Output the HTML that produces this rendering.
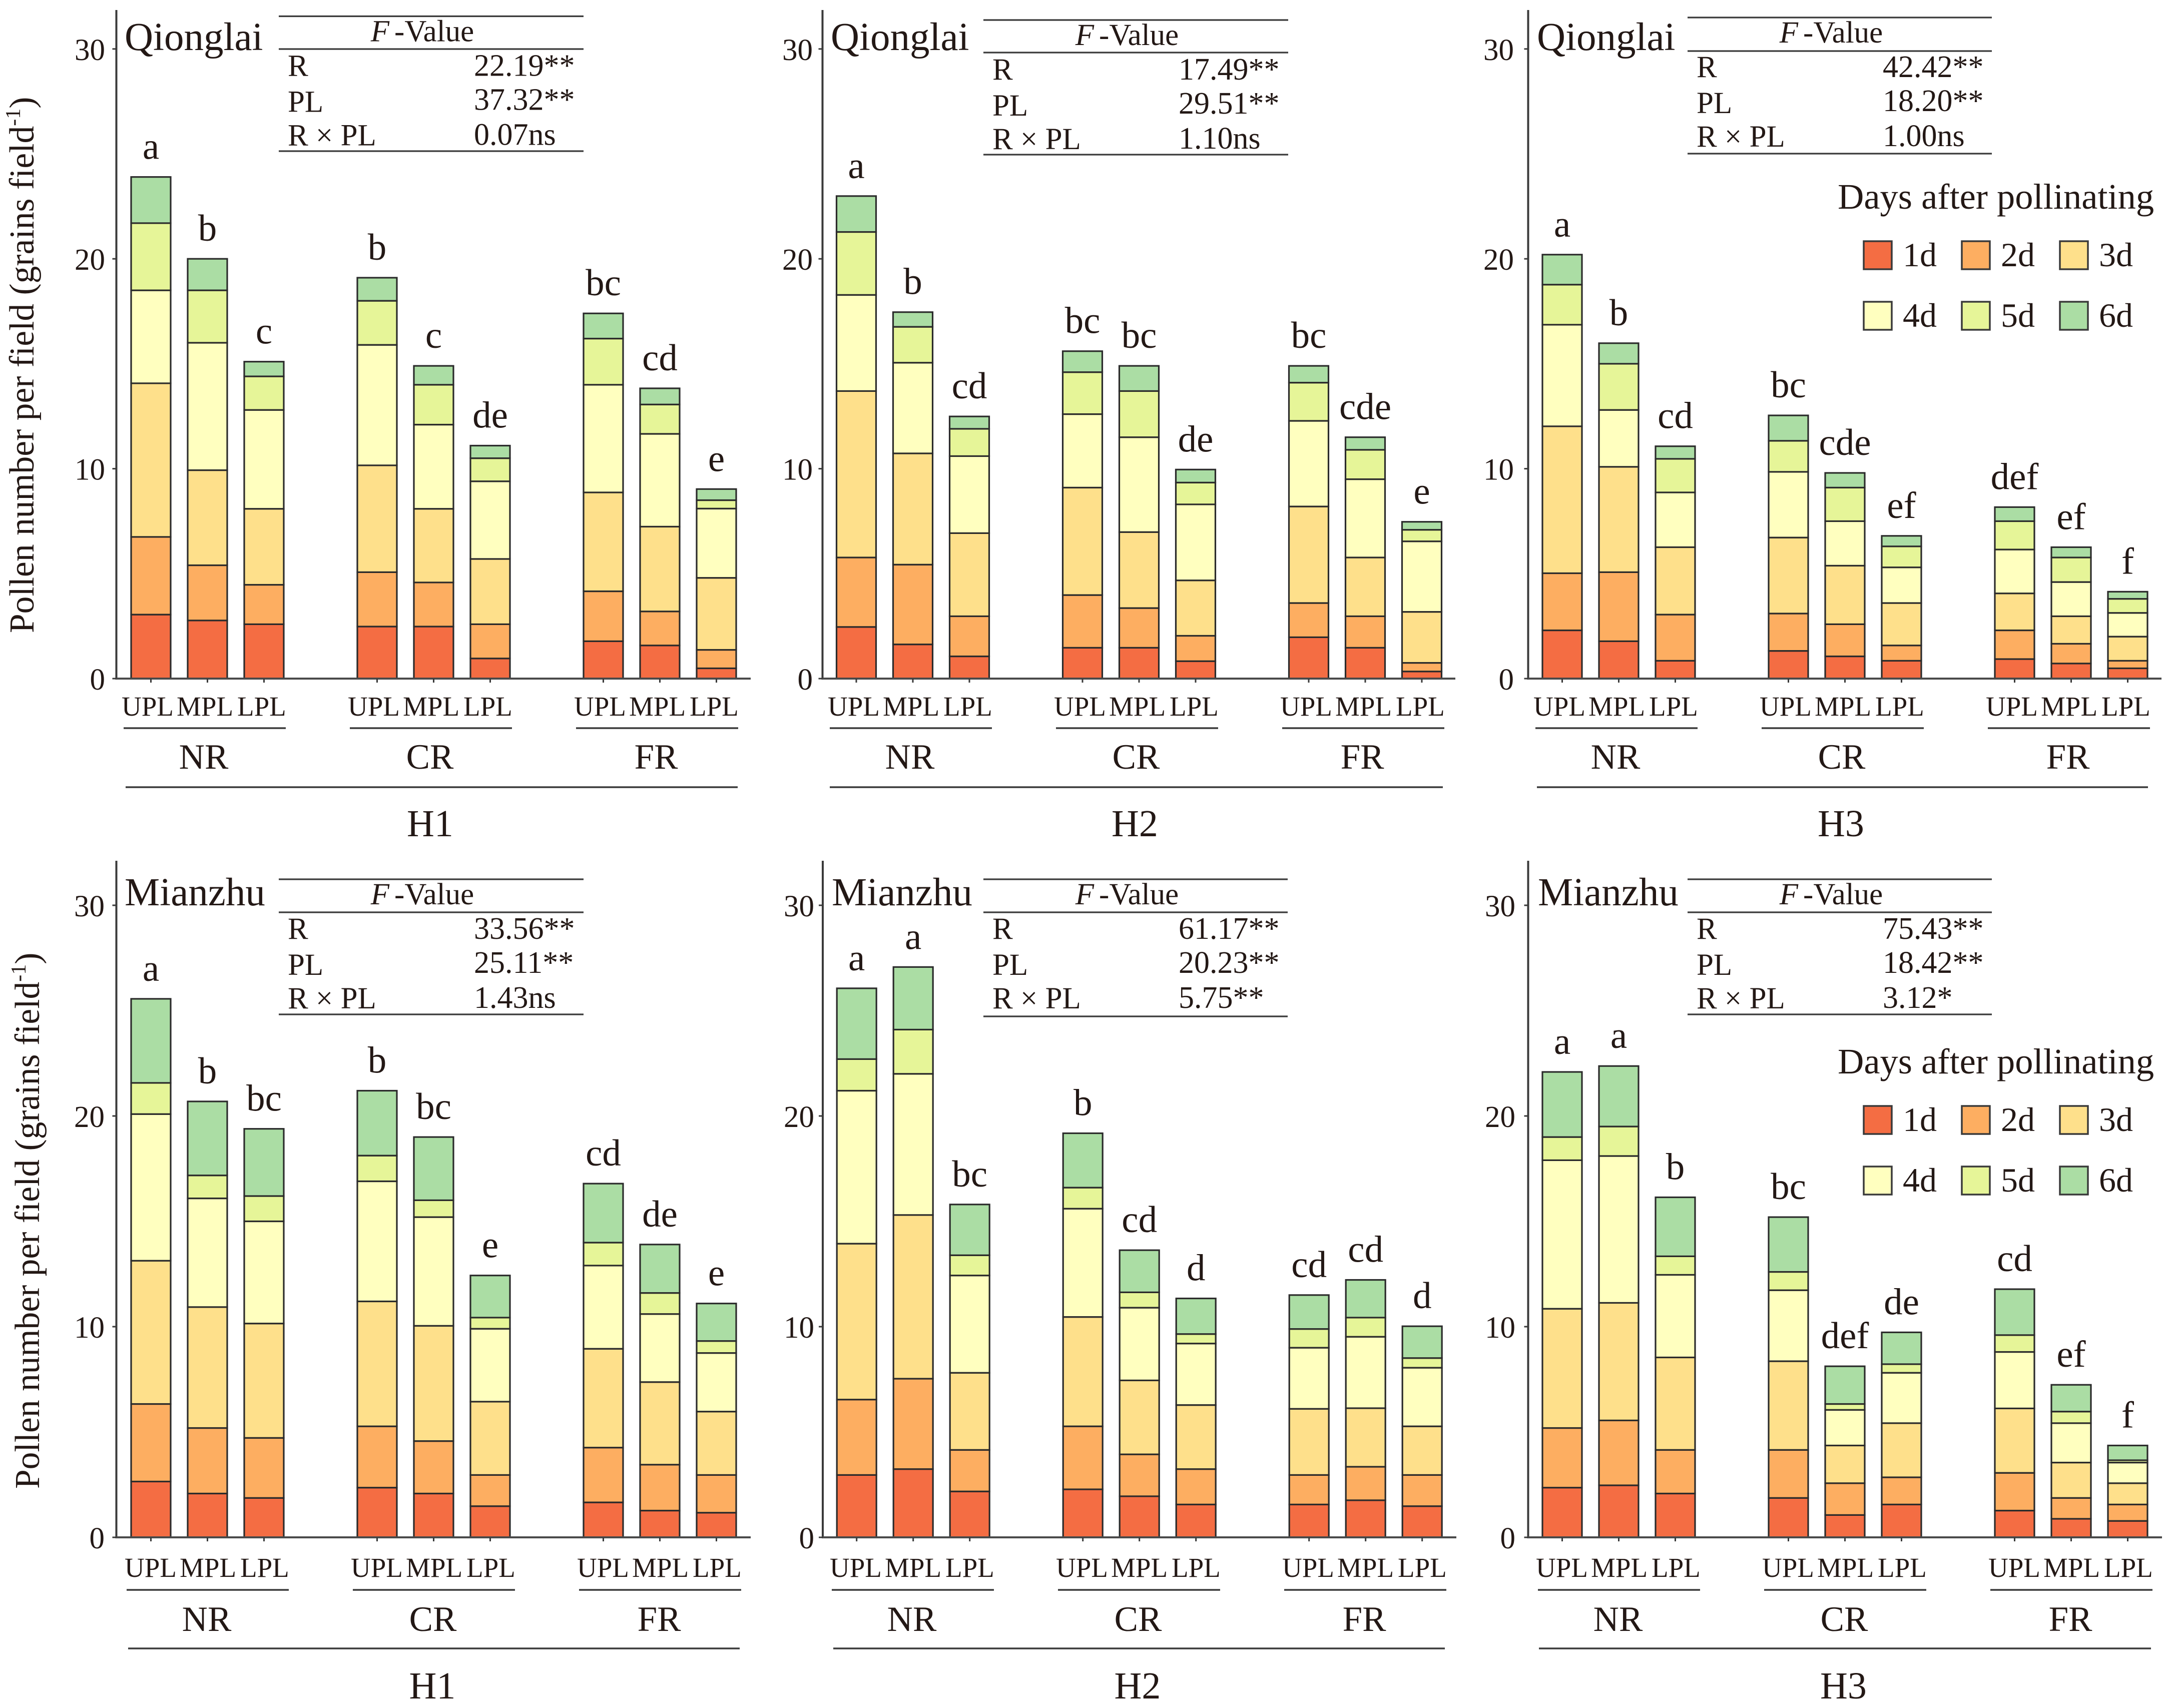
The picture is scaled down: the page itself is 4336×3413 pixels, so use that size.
<!DOCTYPE html>
<html lang="en">
<head>
<meta charset="utf-8">
<title>Pollen number per field by days after pollinating</title>
<style>
html,body{margin:0;padding:0;background:#fff;}
svg{display:block;font-family:"Liberation Serif",serif;fill:#231815;}
</style>
</head>
<body>
<svg id="figure" xmlns="http://www.w3.org/2000/svg" width="4336" height="3413" viewBox="0 0 4336 3413"></svg>
<script>
// ---- categorical data ----
const categories = ['UPL','MPL','LPL'];
const groups = ['NR','CR','FR'];
const yTicks = [0,10,20,30];
const dayLabels = ['1d','2d','3d','4d','5d','6d'];
const dayColors = ['#F46D43','#FDAE61','#FEE08B','#FFFFBF','#E6F598','#ABDDA4'];

// ---- Qionglai H1: daily pollen count per bar ----
const q1d1 = [3.05,2.77,2.59,2.48,2.48,0.96,1.78,1.58,0.49];
const q1d2 = [3.70,2.63,1.88,2.59,2.10,1.63,2.38,1.62,0.88];
const q1d3 = [7.32,4.53,3.62,5.09,3.51,3.11,4.71,4.04,3.43];
const q1d4 = [4.43,6.07,4.71,5.74,4.01,3.70,5.13,4.42,3.30];
const q1d5 = [3.20,2.50,1.60,2.10,1.90,1.10,2.20,1.40,0.40];
const q1d6 = [2.20,1.50,0.70,1.10,0.90,0.60,1.20,0.77,0.53];
const q1Letters = ['a','b','c','b','c','de','bc','cd','e'];
const q1FValues = ['22.19**','37.32**','0.07ns'];

// ---- Qionglai H2 ----
const q2d1 = [2.46,1.63,1.06,1.47,1.47,0.83,1.97,1.47,0.34];
const q2d2 = [3.31,3.80,1.91,2.51,1.89,1.21,1.63,1.50,0.41];
const q2d3 = [7.93,5.30,3.96,5.12,3.62,2.64,4.60,2.80,2.43];
const q2d4 = [4.58,4.32,3.67,3.50,4.52,3.62,4.08,3.73,3.36];
const q2d5 = [3.00,1.71,1.30,2.00,2.20,1.04,1.82,1.40,0.55];
const q2d6 = [1.71,0.70,0.59,1.00,1.20,0.62,0.80,0.60,0.38];
const q2Letters = ['a','b','cd','bc','bc','de','bc','cde','e'];
const q2FValues = ['17.49**','29.51**','1.10ns'];

// ---- Qionglai H3 ----
const q3d1 = [2.30,1.78,0.85,1.32,1.06,0.85,0.93,0.72,0.49];
const q3d2 = [2.72,3.29,2.20,1.78,1.53,0.73,1.37,0.94,0.36];
const q3d3 = [7.00,5.02,3.21,3.62,2.79,2.02,1.76,1.31,1.15];
const q3d4 = [4.84,2.71,2.61,3.13,2.12,1.70,2.09,1.63,1.13];
const q3d5 = [1.91,2.20,1.60,1.48,1.60,1.00,1.35,1.17,0.67];
const q3d6 = [1.43,0.98,0.60,1.21,0.70,0.50,0.67,0.49,0.34];
const q3Letters = ['a','b','cd','bc','cde','ef','def','ef','f'];
const q3FValues = ['42.42**','18.20**','1.00ns'];

// ---- Mianzhu H1 ----
const m1d1 = [2.65,2.08,1.87,2.36,2.08,1.48,1.66,1.27,1.17];
const m1d2 = [3.68,3.11,2.85,2.91,2.49,1.48,2.60,2.18,1.79];
const m1d3 = [6.80,5.74,5.43,5.93,5.47,3.48,4.69,3.92,3.01];
const m1d4 = [6.96,5.16,4.85,5.70,5.16,3.46,3.95,3.23,2.78];
const m1d5 = [1.48,1.09,1.20,1.22,0.80,0.53,1.09,1.00,0.57];
const m1d6 = [3.99,3.51,3.19,3.08,3.00,2.00,2.80,2.30,1.78];
const m1Letters = ['a','b','bc','b','bc','e','cd','de','e'];
const m1FValues = ['33.56**','25.11**','1.43ns'];

// ---- Mianzhu H2 ----
const m2d1 = [2.96,3.24,2.18,2.28,1.95,1.56,1.56,1.76,1.48];
const m2d2 = [3.58,4.29,1.97,2.99,1.99,1.68,1.40,1.59,1.48];
const m2d3 = [7.40,7.77,3.66,5.19,3.51,3.04,3.14,2.78,2.31];
const m2d4 = [7.26,6.70,4.62,5.14,3.45,2.92,2.90,3.39,2.78];
const m2d5 = [1.50,2.10,0.96,1.00,0.73,0.45,0.89,0.91,0.46];
const m2d6 = [3.36,2.97,2.41,2.58,2.00,1.69,1.61,1.79,1.51];
const m2Letters = ['a','a','bc','b','cd','d','cd','cd','d'];
const m2FValues = ['61.17**','20.23**','5.75**'];

// ---- Mianzhu H3 ----
const m3d1 = [2.36,2.47,2.08,1.87,1.06,1.56,1.27,0.88,0.78];
const m3d2 = [2.83,3.08,2.07,2.28,1.51,1.29,1.79,0.99,0.78];
const m3d3 = [5.66,5.58,4.39,4.21,1.79,2.57,3.06,1.68,1.01];
const m3d4 = [7.05,6.97,3.92,3.37,1.69,2.39,2.68,1.87,0.98];
const m3d5 = [1.10,1.40,0.88,0.87,0.28,0.41,0.80,0.55,0.11];
const m3d6 = [3.09,2.87,2.80,2.60,1.79,1.51,2.18,1.27,0.70];
const m3Letters = ['a','a','b','bc','def','de','cd','ef','f'];
const m3FValues = ['75.43**','18.42**','3.12*'];

const fRowLabels = ['R','PL','R × PL'];
const panelSites = ['Qionglai','Qionglai','Qionglai','Mianzhu','Mianzhu','Mianzhu'];
const panelHybrids = ['H1','H2','H3','H1','H2','H3'];
const panelSeries = [
  [q1d1,q1d2,q1d3,q1d4,q1d5,q1d6],
  [q2d1,q2d2,q2d3,q2d4,q2d5,q2d6],
  [q3d1,q3d2,q3d3,q3d4,q3d5,q3d6],
  [m1d1,m1d2,m1d3,m1d4,m1d5,m1d6],
  [m2d1,m2d2,m2d3,m2d4,m2d5,m2d6],
  [m3d1,m3d2,m3d3,m3d4,m3d5,m3d6]
];
const panelLetters = [q1Letters,q2Letters,q3Letters,m1Letters,m2Letters,m3Letters];
const panelFValues = [q1FValues,q2FValues,q3FValues,m1FValues,m2FValues,m3FValues];

// ---- layout only (pixels) ----
const rowLayouts = [
  {y0:1356,unit:41.94,top:20,catBase:1430,catLine:1455,grpBase:1536,rowLine:1573,hBase:1671,siteBase:100},
  {y0:3072,unit:42.1,top:1720,catBase:3151,catLine:3177,grpBase:3259,rowLine:3294,hBase:3394,siteBase:1809}
];
const columnLayouts = [
  {row:0,axisX:232.5,barX0:301.5,right:1500,tickRight:210,labelX:243,lineX1:251,lineX2:1474,siteX:249,tX1:557,tX2:1166,tTop:32.5,tHead:98,tBot:302},
  {row:0,axisX:1643.5,barX0:1711,right:2908,tickRight:1624,labelX:1654,lineX1:1658,lineX2:2883,siteX:1660,tX1:1965,tX2:2574,tTop:40,tHead:105,tBot:309},
  {row:0,axisX:3053.5,barX0:3121.5,right:4319,tickRight:3025,labelX:3064,lineX1:3071,lineX2:4292,siteX:3071,tX1:3372,tX2:3980,tTop:35,tHead:102,tBot:307,legendBase:418},
  {row:1,axisX:232.5,barX0:301.5,right:1500,tickRight:209,labelX:249,lineX1:256,lineX2:1478,siteX:249,tX1:557,tX2:1166,tTop:1757,tHead:1823,tBot:2027},
  {row:1,axisX:1644,barX0:1711.7,right:2910,tickRight:1627,labelX:1658,lineX1:1665,lineX2:2887,siteX:1662,tX1:1965,tX2:2573,tTop:1757,tHead:1823,tBot:2031},
  {row:1,axisX:3053.5,barX0:3121.5,right:4320,tickRight:3028,labelX:3069,lineX1:3075,lineX2:4298,siteX:3073,tX1:3372,tX2:3980,tTop:1757,tHead:1823,tBot:2027,legendBase:2146}
];
const BAR_STEP = 113, BAR_W = 79, GROUP_STEP = 452;
const TEXT_COLOR = '#231815', LINE_COLOR = '#3a3a3a';

const svg = document.getElementById('figure');
const NS = 'http://www.w3.org/2000/svg';
function make(tag, parent, attrs, text){
  const node = document.createElementNS(NS, tag);
  for (const k in attrs) node.setAttribute(k, attrs[k]);
  if (text !== undefined) node.textContent = text;
  parent.appendChild(node);
  return node;
}
function hLine(parent, x1, x2, y, w, color){
  return make('line', parent, {x1:x1, x2:x2, y1:y, y2:y, stroke:color || LINE_COLOR, 'stroke-width':w});
}

columnLayouts.forEach(function(p, pi){
  const row = rowLayouts[p.row];
  const yScale = function(v){ return row.y0 - v * row.unit; };
  const xScale = function(barIndex){
    const groupIdx = Math.floor(barIndex / 3);
    return p.barX0 + groupIdx * GROUP_STEP + (barIndex % 3) * BAR_STEP;
  };

  const panel = make('g', svg, {});
  
  

  // bars
  const series = panelSeries[pi];
  const letters = panelLetters[pi];
  for (let b = 0; b < letters.length; b++){
    let cum = 0;
    const barX = xScale(b);
    const barGroup = make('g', panel, {});
    
    
    for (let d = 0; d < series.length; d++){
      const v = series[d][b];
      const yTop = yScale(cum + v);
      const yBottom = yScale(cum);
      const seg = make('rect', barGroup, {x:barX - BAR_W/2, y:yTop, width:BAR_W, height:yBottom - yTop, fill:dayColors[d], stroke:'#2b2b2b', 'stroke-width':3.2});
      
      
      cum += v;
    }
    const letter = make('text', panel, {x:barX, y:yScale(cum) - 36, 'text-anchor':'middle', 'font-size':75, fill:TEXT_COLOR}, letters[b]);
    
    
  }

  // axes
  const yAxis = make('line', panel, {x1:p.axisX, x2:p.axisX, y1:row.top, y2:row.y0 + 2, stroke:LINE_COLOR, 'stroke-width':4});
  
  
  const xAxis = hLine(panel, p.axisX, p.right, row.y0, 4, '#4a4a4a');
  
  

  yTicks.forEach(function(t){
    const tick = make('line', panel, {x1:p.axisX - 8, x2:p.axisX, y1:yScale(t), y2:yScale(t), stroke:LINE_COLOR, 'stroke-width':3});
    
    
    const tickLabel = make('text', panel, {x:p.tickRight, y:yScale(t) + 22, 'text-anchor':'end', 'font-size':61, fill:TEXT_COLOR}, String(t));
    
    
  });

  // category labels and brackets
  const catOffsets = [0, 110, 231];
  groups.forEach(function(g, gi){
    const gx = gi * GROUP_STEP;
    categories.forEach(function(c, ci){
      const tickX = xScale(gi * 3 + ci);
      const xTick = make('line', panel, {x1:tickX, x2:tickX, y1:row.y0, y2:row.y0 + 8, stroke:LINE_COLOR, 'stroke-width':3});
      
      
      const catLabel = make('text', panel, {x:p.labelX + gx + catOffsets[ci], y:row.catBase, 'font-size':55, fill:TEXT_COLOR}, c);
      
      
    });
    const bracket = hLine(panel, p.labelX + 4 + gx, p.labelX + 328 + gx, row.catLine, 3.5);
    
    
    const groupLabel = make('text', panel, {x:p.labelX + 164 + gx, y:row.grpBase, 'text-anchor':'middle', 'font-size':71, fill:TEXT_COLOR}, g);
    
    
  });
  const hybridLine = hLine(panel, p.lineX1, p.lineX2, row.rowLine, 3.5);
  
  
  const hybridLabel = make('text', panel, {x:(p.lineX1 + p.lineX2)/2 - 3, y:row.hBase, 'text-anchor':'middle', 'font-size':76, fill:TEXT_COLOR}, panelHybrids[pi]);
  
  

  const site = make('text', panel, {x:p.siteX, y:row.siteBase, 'font-size':79, fill:TEXT_COLOR}, panelSites[pi]);
  
  

  // F-value table
  const table = make('g', panel, {});
  
  
  const tLine1 = hLine(table, p.tX1, p.tX2, p.tTop, 3.2);
  
  
  const tLine2 = hLine(table, p.tX1, p.tX2, p.tHead, 3.2);
  
  
  const tLine3 = hLine(table, p.tX1, p.tX2, p.tBot, 3.2);
  
  
  const head = make('text', table, {x:p.tX1 + 287, y:p.tTop + 50, 'text-anchor':'middle', 'font-size':61, fill:TEXT_COLOR});
  
  
  make('tspan', head, {'font-style':'italic'}, 'F');
  make('tspan', head, {dx:10}, '-Value');
  const labelOffsets = [119, 191, 258];
  const valueOffsets = [119, 187, 257];
  fRowLabels.forEach(function(lab, ri){
    const rowLabel = make('text', table, {x:p.tX1 + 18, y:p.tTop + labelOffsets[ri], 'font-size':61, fill:TEXT_COLOR}, lab);
    
    
    const rowValue = make('text', table, {x:p.tX1 + 390, y:p.tTop + valueOffsets[ri], 'font-size':62, fill:TEXT_COLOR}, panelFValues[pi][ri]);
    
    
  });

  // y axis title on the left-hand panels
  if (pi === 0 || pi === 3){
    const bx = pi === 0 ? 67 : 78;
    const by = pi === 0 ? 1265 : 2975;
    const title = make('text', panel, {transform:'translate(' + bx + ' ' + by + ') rotate(-90)', 'font-size':69.5, fill:TEXT_COLOR});
    
    
    make('tspan', title, {}, 'Pollen number per field (grains field');
    make('tspan', title, {dy:-27, 'font-size':42}, '-1');
    make('tspan', title, {dy:27}, ')');
  }

  // legend
  if (p.legendBase !== undefined){
    const legend = make('g', panel, {});
    
    
    const legendTitle = make('text', legend, {x:3672, y:p.legendBase - 1, 'font-size':72.5, fill:TEXT_COLOR}, 'Days after pollinating');
    
    
    dayLabels.forEach(function(lab, di){
      const col = di % 3;
      const rowIdx = Math.floor(di / 3);
      const sx = 3724 + col * 196;
      const sy = p.legendBase + 64 + rowIdx * 121;
      const swatch = make('rect', legend, {x:sx, y:sy, width:56, height:56, fill:dayColors[di], stroke:'#3a3a3a', 'stroke-width':3.5});
      
      
      const swatchText = make('text', legend, {x:sx + 78, y:sy + 50, 'font-size':68, fill:TEXT_COLOR}, lab);
      
      
    });
  }
});
</script>
</body>
</html>
